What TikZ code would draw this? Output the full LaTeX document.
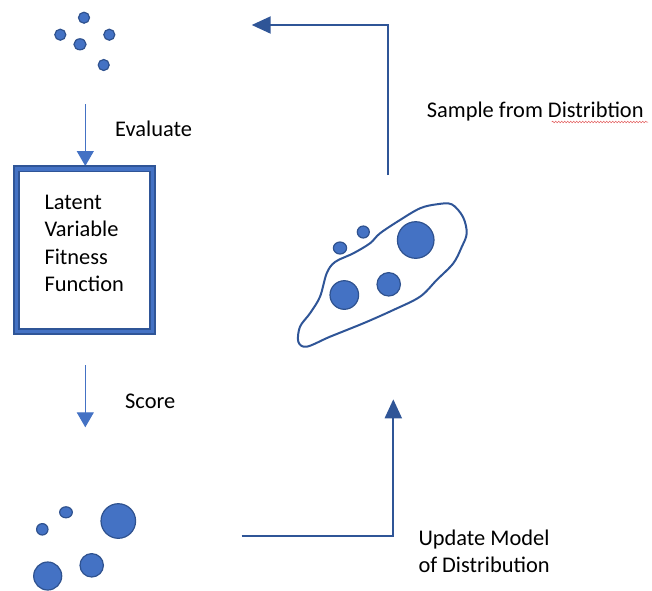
\documentclass[tikz,border=0pt]{standalone}
\usepackage{fontspec}
\setmainfont{Carlito}
\usetikzlibrary{arrows.meta,decorations.pathmorphing}
\definecolor{accent}{HTML}{4472C4}
\definecolor{accentdark}{HTML}{2F5597}
\definecolor{dotedge}{HTML}{2F528F}
\definecolor{spellred}{HTML}{E05050}
\begin{document}
\begin{tikzpicture}[x=1pt,y=-1pt,
  dot/.style={circle,fill=accent,draw=dotedge,line width=1.2pt,inner sep=0pt,minimum size=#1},
  lbl/.style={anchor=base west,inner sep=0pt,font=\fontsize{22.4}{27.3}\selectfont},
  thinarrow/.style={draw=accent,line width=1.1pt,-{Triangle[length=15pt,width=17pt]}},
  flowarrow/.style={draw=accentdark,line width=2pt,-{Triangle[length=19pt,width=17pt]}},
  outline/.style={draw=accentdark,line width=2pt}]
\useasboundingbox (0,0) rectangle (652,590);

% population before evaluation
\node[dot=11pt] (p1) at (84,17.7) {};
\node[dot=11pt] (p2) at (60.3,34.7) {};
\node[dot=11pt] (p3) at (109.3,34.7) {};
\node[dot=11pt,xscale=1.1] (p4) at (80,44.3) {};
\node[dot=11pt] (p5) at (103.7,65) {};

% evaluate step
\coordinate (evalstart) at (85.3,104);
\coordinate (evalend) at (85.3,166);
\draw[thinarrow] (evalstart) -- (evalend);
\node[lbl] (evaltxt) at (115,136) {Evaluate};

% fitness function box
\node[draw=accentdark,line width=7pt,outer sep=0pt,minimum width=136.4pt,minimum height=162.9pt,inner sep=0pt] (fitbox) at (84.5,250.25) {};
\draw[accent,line width=3.5pt] (fitbox.south west) rectangle (fitbox.north east);
\node[lbl,align=left] (fittxt) at (44.3,291.3) {Latent\\Variable\\Fitness\\Function};

% score step
\coordinate (scorestart) at (85.3,365);
\coordinate (scoreend) at (85.3,427.3);
\draw[thinarrow] (scorestart) -- (scoreend);
\node[lbl] (scoretxt) at (125,408.3) {Score};

% scored population
\node[dot=11.4pt] (s1) at (42.3,529.3) {};
\node[dot=11pt,xscale=1.15] (s2) at (66,512.3) {};
\node[dot=34.6pt] (s3) at (118.3,521) {};
\node[dot=23.4pt] (s4) at (91.7,565.3) {};
\node[dot=28pt] (s5) at (47.7,576) {};

% update model step
\coordinate (updstart) at (241.7,536);
\coordinate (updcorner) at (393.3,536);
\coordinate (updend) at (393.3,399.3);
\draw[flowarrow] (updstart) -- (updcorner) -- (updend);
\node[lbl,align=left] (updtxt) at (418.3,572.3) {Update Model\\of Distribution};

% distribution model
\draw[outline] plot[smooth cycle,tension=0.55] coordinates {
  (451.7,204.3) (463,217) (466.7,233.3) (461.7,247) (453.3,263.3)
  (436.7,280) (420,296.7) (393.3,310) (363.3,323.3) (330,336.7)
  (306.7,346.7) (298.3,341.7) (300,326.7) (310,313.3) (320,296.7)
  (326.7,273.3) (335,262) (353.3,253.3) (370,243.3) (380,233.3)
  (400,220) (420,208.3) (436.7,204.3)};
\node[dot=36.6pt] (d1) at (415.7,240) {};
\node[dot=12pt] (d2) at (363.3,232) {};
\node[dot=12pt,xscale=1.1] (d3) at (340,248) {};
\node[dot=28.6pt] (d4) at (344.3,295) {};
\node[dot=23.4pt] (d5) at (388.7,284.3) {};

% sampling step
\coordinate (sampstart) at (388.3,175);
\coordinate (sampcorner) at (388.3,25);
\coordinate (sampend) at (251.7,25);
\draw[flowarrow] (sampstart) -- (sampcorner) -- (sampend);
\node[lbl] (samptxt) at (426.7,117.3) {Sample from Distribtion};
\coordinate (wavystart) at (551.7,122);
\coordinate (wavyend) at (648,122);
\draw[spellred,line width=0.5pt,decorate,decoration={snake,amplitude=0.8pt,segment length=3pt}] (wavystart) -- (wavyend);
\end{tikzpicture}
\end{document}
